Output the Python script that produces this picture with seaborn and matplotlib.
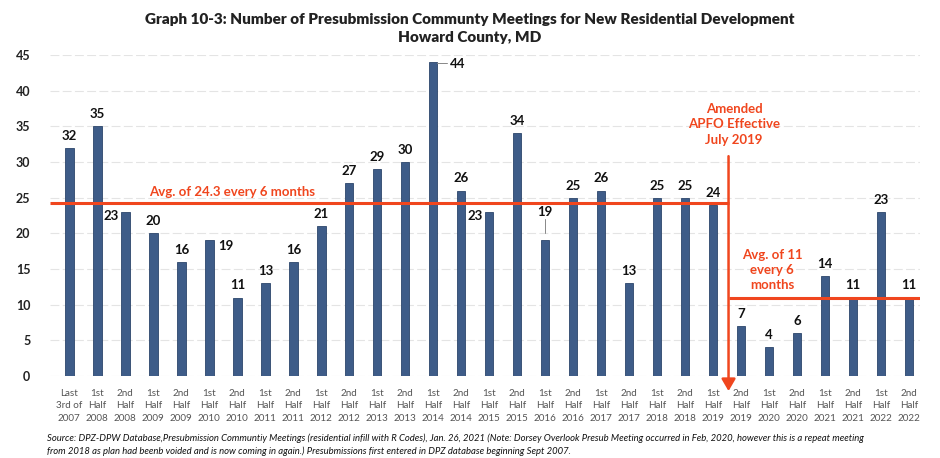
import matplotlib
matplotlib.use("Agg")
import matplotlib.pyplot as plt
import seaborn as sns
import pandas as pd

periods = ["Last\n3rd of\n2007"]
for yr in range(2008, 2023):
    periods += [f"1st\nHalf\n{yr}", f"2nd\nHalf\n{yr}"]
meetings = [32, 35, 23, 20, 16, 19, 11, 13, 16, 21, 27, 29, 30, 44, 26, 23,
            34, 19, 25, 26, 13, 25, 25, 24, 7, 4, 6, 14, 11, 23, 11]
avg_before = 24.3
avg_after = 11
title = ("Graph 10-3: Number of Presubmission Communty Meetings for New Residential Development\n"
         "Howard County, MD")
source = ("Source: DPZ-DPW Database,Presubmission Communtiy Meetings (residential infill with R Codes), Jan. 26, 2021 "
          "(Note: Dorsey Overlook Presub Meeting occurred in Feb, 2020, however this is a repeat meeting\n"
          "from 2018 as plan had beenb voided and is now coming in again.) Presubmissions first entered in DPZ "
          "database beginning Sept 2007.")

df = pd.DataFrame({"period": periods, "meetings": meetings})

sns.set_theme(style="white")
plt.rcParams["font.family"] = ["Lato", "DejaVu Sans"]

RED = "#F0461E"
BAR = "#3E5C88"

fig = plt.figure(figsize=(9.4, 4.58), dpi=100)
ax = fig.add_axes([0.053, 0.179, 0.926, 0.701])

sns.barplot(data=df, x="period", y="meetings", color=BAR, width=0.3,
            saturation=1, ax=ax, edgecolor="#2C466B", linewidth=0.6)

ax.set_ylim(0, 45)
ax.set_xlim(-0.7, 30.4)
ax.set_yticks(range(0, 46, 5))
ax.yaxis.grid(True, color="#e4e4e4", linewidth=0.8, linestyle=(0, (8, 3)))
ax.set_axisbelow(True)
for s in ax.spines.values():
    s.set_visible(False)
ax.set_xlabel("")
ax.set_ylabel("")
ax.tick_params(axis="y", length=0, pad=14, labelsize=9)
ax.tick_params(axis="x", length=0, pad=9, labelsize=7.1, labelcolor="#555555")
for t in ax.get_yticklabels():
    t.set_fontweight("bold")
    t.set_color("#222222")
ax.set_xticks(range(len(periods)))
ax.set_xticklabels(periods, linespacing=1.55)

# value labels
side = {2: "left", 5: "right", 13: "right", 15: "left"}
for i, v in enumerate(meetings):
    if side.get(i) == "left":
        ax.text(i - 0.25, v - 0.6, str(v), ha="right", va="center",
                fontsize=9.5, fontweight="bold", color="#111111")
    elif side.get(i) == "right":
        ax.text(i + 0.3 + (0.3 if i == 13 else 0), v - 0.2 - (0.6 if i == 5 else 0), str(v),
                ha="left", va="center", fontsize=9.5, fontweight="bold", color="#111111")
        if i == 13:
            ax.plot([i + 0.15, i + 0.5], [v - 0.1, v - 0.1], color="#888888", lw=0.7)
    elif i == 17:
        ax.text(i, v + 4.0, str(v), ha="center", va="center",
                fontsize=9.5, fontweight="bold", color="#111111")
        ax.plot([i, i], [v + 1.0, v + 3.0], color="#888888", lw=0.7)
    else:
        ax.text(i, v + 1.7, str(v), ha="center", va="center",
                fontsize=9.5, fontweight="bold", color="#111111")

# average lines and the APFO marker
split = 23.55
ax.plot([-0.7, split], [avg_before, avg_before], color=RED, lw=2.2, solid_capstyle="butt")
ax.plot([split, 30.4], [avg_after, avg_after], color=RED, lw=2.2, solid_capstyle="butt")
ax.annotate("", xy=(split, -2.5), xytext=(split, 31.2),
            arrowprops=dict(arrowstyle="-|>,head_width=0.35,head_length=0.6",
                            color=RED, lw=1.8), annotation_clip=False)

ax.text(5.8, 25.8, "Avg. of 24.3 every 6 months", ha="center", va="center",
        fontsize=9.5, fontweight="bold", color=RED)
ax.text(split + 0.2, 35.3, "Amended\nAPFO Effective\nJuly 2019", ha="center", va="center",
        fontsize=9.5, fontweight="bold", color=RED, linespacing=1.35)
ax.text(25.1, 14.8, "Avg. of 11\nevery 6\nmonths", ha="center", va="center",
        fontsize=9.5, fontweight="bold", color=RED, linespacing=1.3)

fig.text(0.5, 0.937, title, ha="center", va="center", fontsize=11,
         fontweight="heavy", color="#222222", linespacing=1.45)
fig.text(0.05, 0.029, source, ha="left", va="center", fontsize=6.8,
         style="italic", color="#111111", linespacing=1.45)

fig.savefig("out.png", dpi=100)
